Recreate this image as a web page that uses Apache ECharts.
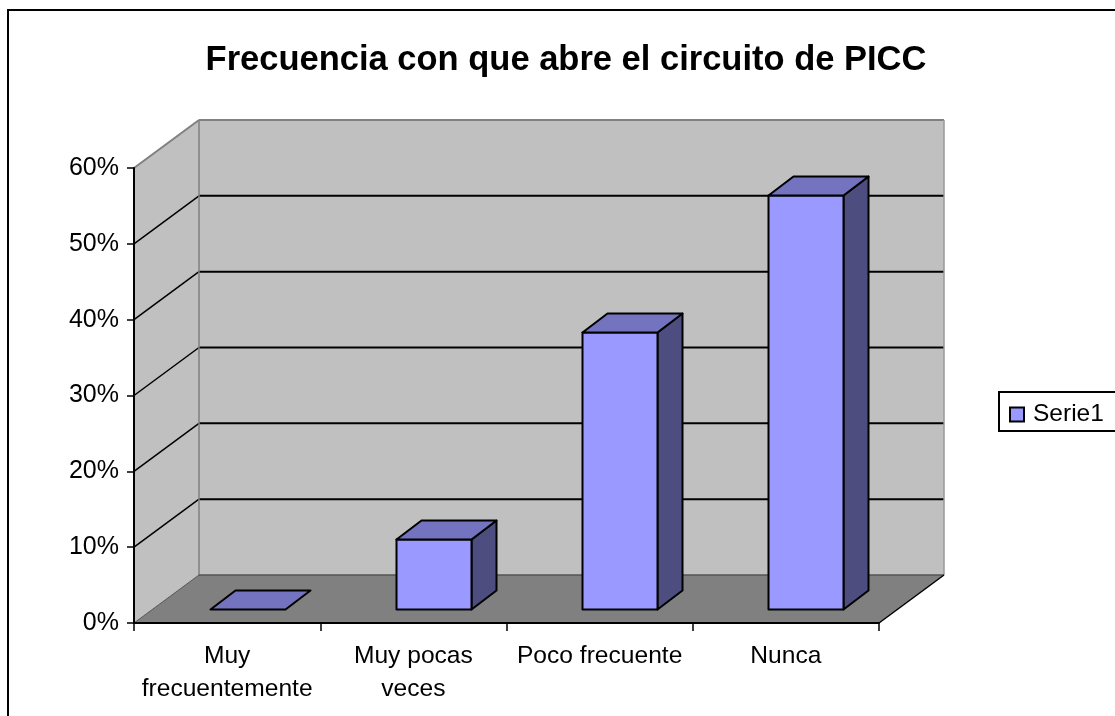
<!DOCTYPE html>
<html>
<head>
<meta charset="utf-8">
<style>html,body{margin:0;padding:0;background:#fff}#c{width:1115px;height:716px}</style>
<script src="https://cdn.jsdelivr.net/npm/echarts@6/dist/echarts.min.js"></script>
</head>
<body>
<div id="c"></div>
<script>
const titleText = 'Frecuencia con que abre el circuito de PICC';
const categories = ['Muy\nfrecuentemente', 'Muy pocas\nveces', 'Poco frecuente', 'Nunca'];
const seriesName = 'Serie1';
const values = [0, 0.092, 0.365, 0.545];
const gridValues = [0.1, 0.2, 0.3, 0.4, 0.5];

const FONT = '"Liberation Sans", Arial, sans-serif';
const DX = 65, DY = -48;            // full depth of the 3D box
const BX = 20, BY = -14.5;          // bar front offset from the front plane
const DBX = 25, DBY = -19;          // bar depth
const BAR_W = 75;

const chart = echarts.init(document.getElementById('c'), null, {renderer: 'canvas'});

function bounds(api) {
  const band = api.size([1, 0])[0];
  const p0 = api.coord([0, 0]), p1 = api.coord([categories.length - 1, 0.6]);
  return {l: p0[0] - band / 2, r: p1[0] + band / 2, b: p0[1], t: p1[1]};
}
function poly(points, fill, stroke, lw) {
  return {type: 'polygon', shape: {points},
    style: {fill, stroke: stroke || null, lineWidth: lw || 0, lineJoin: 'round'}};
}
function line(a, b, stroke, lw) {
  return {type: 'line', shape: {x1: a[0], y1: a[1], x2: b[0], y2: b[1]},
    style: {stroke, lineWidth: lw, fill: null}};
}

chart.setOption({
  animation: false,
  backgroundColor: '#fff',
  title: {
    text: titleText, left: 561, top: 38, textAlign: 'center',
    textStyle: {fontFamily: FONT, fontSize: 34.5, fontWeight: 'bold', color: '#000'}
  },
  legend: {
    left: 999, top: 392, orient: 'vertical',
    padding: [10, 60, 4, 10],
    backgroundColor: '#fff', borderColor: '#000', borderWidth: 2, borderRadius: 0,
    itemWidth: 14, itemHeight: 14, itemGap: 0,
    icon: 'rect',
    textStyle: {fontFamily: FONT, fontSize: 24.5, color: '#000', padding: [0, 0, 0, 4]},
    data: [{name: seriesName, itemStyle: {color: '#9999FF', borderColor: '#000', borderWidth: 2}}]
  },
  grid: {left: 134, right: 236, top: 168, height: 455, containLabel: false},
  xAxis: {
    type: 'category', data: categories, z: 3,
    axisLine: {lineStyle: {color: '#000', width: 2}},
    axisTick: {show: true, alignWithLabel: false, length: 8, lineStyle: {color: '#000', width: 1.5}},
    axisLabel: {
      fontFamily: FONT, fontSize: 24.6, color: '#000', margin: 17, lineHeight: 33,
      interval: 0, verticalAlign: 'top', align: 'center'
    }
  },
  yAxis: {
    type: 'value', min: 0, max: 0.6, interval: 0.1, z: 3,
    axisLine: {show: true, lineStyle: {color: '#000', width: 2}},
    axisTick: {show: true, length: 7, lineStyle: {color: '#000', width: 1.5}},
    splitLine: {show: false},
    axisLabel: {
      fontFamily: FONT, fontSize: 25, color: '#000', margin: 15, padding: [6, 0, 0, 0],
      formatter: v => Math.round(v * 100) + '%'
    }
  },
  series: [
    {
      name: 'walls', type: 'custom', z: 1, silent: true, clip: false,
      coordinateSystem: 'cartesian2d', legendHoverLink: false,
      data: [[0, 0]],
      encode: {x: 0, y: 1},
      renderItem: (params, api) => {
        const B = bounds(api);
        const children = [
          poly([[B.l + DX, B.t + DY], [B.r + DX, B.t + DY], [B.r + DX, B.b + DY], [B.l + DX, B.b + DY]], '#C0C0C0'),
          poly([[B.l, B.t], [B.l + DX, B.t + DY], [B.l + DX, B.b + DY], [B.l, B.b]], '#C0C0C0'),
          poly([[B.l, B.b], [B.l + DX, B.b + DY], [B.r + DX, B.b + DY], [B.r, B.b]], '#808080')
        ];
        gridValues.forEach(v => {
          const y = api.coord([0, v])[1];
          children.push(line([B.l, y], [B.l + DX, y + DY], '#000', 1.5));
          children.push(line([B.l + DX, y + DY], [B.r + DX, y + DY], '#000', 2));
        });
        children.push(line([B.l, B.t], [B.l + DX, B.t + DY], '#808080', 2));
        children.push(line([B.l + DX, B.t + DY], [B.r + DX, B.t + DY], '#808080', 2));
        children.push(line([B.r + DX, B.t + DY], [B.r + DX, B.b + DY], '#999999', 1.5));
        children.push(line([B.l + DX, B.t + DY], [B.l + DX, B.b + DY], '#808080', 1.5));
        children.push(line([B.l, B.b], [B.l + DX, B.b + DY], '#555555', 1));
        children.push(line([B.l + DX, B.b + DY], [B.r + DX, B.b + DY], '#555555', 1.5));
        children.push(line([B.r, B.b], [B.r + DX, B.b + DY], '#000', 1.5));
        return {type: 'group', children};
      }
    },
    {
      name: seriesName, type: 'custom', z: 4, clip: false,
      coordinateSystem: 'cartesian2d',
      itemStyle: {color: '#9999FF'},
      data: values.map((v, i) => [i, v]),
      encode: {x: 0, y: 1},
      renderItem: (params, api) => {
        const p = api.coord([api.value(0), api.value(1)]);
        const base = api.coord([api.value(0), 0]);
        const x0 = Math.round(p[0] + BX - BAR_W / 2) + 0.5, x1 = x0 + BAR_W;
        const yt = Math.round(p[1] + BY) + 0.5, yb = Math.round(base[1] + BY) + 0.5;
        const S = '#000', W = 2;
        const children = [];
        if (yb - yt > 0.5) {
          children.push(poly([[x1, yt], [x1 + DBX, yt + DBY], [x1 + DBX, yb + DBY], [x1, yb]], '#4D4D80', S, W));
          children.push(poly([[x0, yt], [x1, yt], [x1, yb], [x0, yb]], '#9999FF', S, W));
        }
        children.push(poly([[x0, yt], [x0 + DBX, yt + DBY], [x1 + DBX, yt + DBY], [x1, yt]], '#7373BF', S, W));
        return {type: 'group', children};
      }
    }
  ],
  graphic: [
    {type: 'line', z: 100, silent: true, shape: {x1: 8, y1: 10, x2: 8, y2: 716}, style: {stroke: '#000', lineWidth: 2}},
    {type: 'line', z: 100, silent: true, shape: {x1: 7, y1: 10, x2: 1115, y2: 10}, style: {stroke: '#000', lineWidth: 2}}
  ]
});
</script>
</body>
</html>
